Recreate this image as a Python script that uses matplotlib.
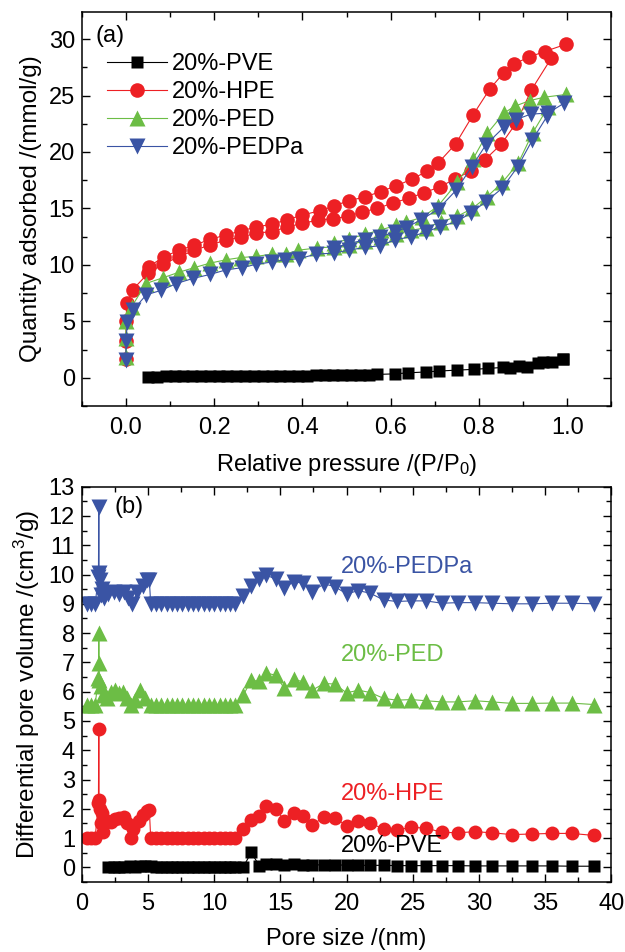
import matplotlib
matplotlib.use("Agg")
import matplotlib.pyplot as plt
from matplotlib.ticker import MultipleLocator

plt.rcParams['font.family'] = ['Liberation Sans', 'DejaVu Sans']
plt.rcParams['mathtext.fontset'] = 'custom'
plt.rcParams['mathtext.rm'] = 'Liberation Sans'
plt.rcParams['mathtext.it'] = 'Liberation Sans:italic'

# ---------------- (a) isotherms ----------------
pve_ads_p = [0.05, 0.07, 0.09, 0.11, 0.13, 0.15, 0.17, 0.19, 0.21, 0.23, 0.25, 0.27, 0.29, 0.31,
             0.33, 0.35, 0.37, 0.39, 0.41, 0.43, 0.45, 0.47, 0.49, 0.51, 0.53, 0.55, 0.57, 0.61,
             0.64, 0.68, 0.71, 0.75, 0.79, 0.82, 0.855, 0.89, 0.945, 0.99]
pve_ads_v = [0.10, 0.11, 0.12, 0.12, 0.13, 0.13, 0.14, 0.14, 0.15, 0.15, 0.16, 0.16, 0.17, 0.17,
             0.18, 0.18, 0.19, 0.19, 0.20, 0.21, 0.21, 0.22, 0.23, 0.24, 0.25, 0.26, 0.30, 0.35,
             0.44, 0.52, 0.60, 0.68, 0.75, 0.83, 0.92, 1.05, 1.42, 1.66]
pve_des_p = [0.99, 0.965, 0.935, 0.91, 0.87]
pve_des_v = [1.66, 1.40, 1.30, 1.00, 0.85]

hpe_ads_p = [0.0, 0.0, 0.0, 0.002, 0.015, 0.05, 0.085, 0.12, 0.155, 0.19, 0.226, 0.26, 0.294,
             0.33, 0.366, 0.40, 0.435, 0.47, 0.503, 0.536, 0.57, 0.606, 0.641, 0.676, 0.711,
             0.745, 0.781, 0.813, 0.851, 0.885, 0.919, 0.964]
hpe_ads_v = [1.7, 3.3, 5.0, 6.6, 7.8, 9.25, 10.1, 10.7, 11.3, 11.75, 12.2, 12.45, 12.8, 12.95,
             13.35, 13.7, 13.95, 14.1, 14.3, 14.7, 15.0, 15.5, 15.9, 16.4, 16.9, 17.6, 18.3,
             19.3, 20.7, 22.6, 25.5, 28.3]
hpe_des_p = [0.998, 0.949, 0.913, 0.880, 0.856, 0.825, 0.787, 0.747, 0.707, 0.683, 0.648, 0.613,
             0.577, 0.541, 0.505, 0.471, 0.44, 0.398, 0.366, 0.33, 0.294, 0.26, 0.226, 0.19,
             0.155, 0.12, 0.0855, 0.0514]
hpe_des_v = [29.55, 28.9, 28.4, 27.8, 27.0, 25.6, 23.3, 20.7, 19.0, 18.3, 17.6, 17.0, 16.5, 16.0,
             15.7, 15.2, 14.8, 14.4, 14.0, 13.6, 13.35, 13.0, 12.65, 12.25, 11.75, 11.3, 10.7, 9.85]

ped_ads_p = [0.0, 0.0, 0.0, 0.013, 0.045, 0.083, 0.12, 0.154, 0.19, 0.226, 0.26, 0.295, 0.33,
             0.363, 0.39, 0.433, 0.471, 0.505, 0.541, 0.577, 0.611, 0.645, 0.680, 0.714, 0.751,
             0.785, 0.819, 0.853, 0.889, 0.922, 0.957]
ped_ads_v = [1.85, 3.5, 5.0, 6.3, 8.35, 8.85, 9.35, 9.75, 10.15, 10.45, 10.65, 10.75, 10.95,
             10.95, 11.3, 11.5, 11.6, 11.8, 12.1, 12.45, 12.75, 13.05, 13.3, 13.8, 14.3, 15.0,
             16.05, 17.3, 19.0, 21.7, 24.0]
ped_des_p = [0.998, 0.948, 0.915, 0.881, 0.857, 0.819, 0.787, 0.751, 0.707, 0.671, 0.635, 0.613,
             0.577, 0.541, 0.505, 0.471]
ped_des_v = [25.1, 24.85, 24.55, 24.05, 23.45, 21.65, 19.4, 17.3, 15.2, 14.2, 13.8, 13.5, 13.1,
             12.7, 12.3, 11.9]

pedpa_ads_p = [0.0, 0.0, 0.003, 0.016, 0.046, 0.08, 0.114, 0.152, 0.19, 0.226, 0.262, 0.295,
               0.33, 0.36, 0.393, 0.43, 0.471, 0.505, 0.541, 0.576, 0.609, 0.645, 0.680, 0.712,
               0.748, 0.782, 0.816, 0.853, 0.888, 0.921, 0.955]
pedpa_ads_v = [1.6, 3.3, 4.9, 6.0, 7.35, 7.75, 8.35, 8.8, 9.15, 9.55, 9.75, 10.05, 10.25, 10.45,
               10.55, 10.95, 11.05, 11.3, 11.55, 11.7, 12.2, 12.5, 12.9, 13.4, 13.8, 14.6, 15.6,
               16.8, 18.7, 21.05, 23.2]
pedpa_des_p = [0.992, 0.957, 0.917, 0.883, 0.858, 0.816, 0.784, 0.748, 0.707, 0.669, 0.635,
               0.609, 0.576, 0.541, 0.505, 0.471]
pedpa_des_v = [24.3, 23.45, 23.35, 22.85, 22.25, 20.65, 18.7, 16.6, 14.9, 14.0, 13.3, 12.9,
               12.5, 12.2, 11.9, 11.5]

labels = ['20%-PVE', '20%-HPE', '20%-PED', '20%-PEDPa']

# ---------------- (b) pore size distributions ----------------
pore_flat = [5.6, 6.0, 6.4, 6.8, 7.2, 7.6, 8.0, 8.4, 8.8, 9.2, 9.6, 10.0, 10.4, 10.8, 11.2, 11.6]
pore_hi = [12.2, 12.8, 13.4, 13.9, 14.65, 15.3, 16.0, 16.7, 17.4, 18.3, 19.1, 20.0, 20.9, 21.8,
           22.8, 23.8, 24.9, 26.0, 27.2, 28.4, 29.7, 31.0, 32.5, 34.0, 35.5, 37.0, 38.7]

pve_lo_x = [2.0, 2.4, 2.8, 3.2, 3.6, 4.0, 4.4, 4.8, 5.2]
pve_lo_v = [0.02, 0.03, 0.02, 0.03, 0.04, 0.03, 0.05, 0.04, 0.05]
pve_flat_v = [0.02, 0.02, 0.02, 0.02, 0.02, 0.02, 0.02, 0.02, 0.02, 0.02, 0.02, 0.02, 0.02,
              0.02, 0.02, 0.02]
pve_hi_v = [0.02, 0.51, 0.06, 0.10, 0.10, 0.09, 0.10, 0.09, 0.08, 0.09, 0.08, 0.08, 0.07, 0.07,
            0.07, 0.06, 0.06, 0.06, 0.06, 0.06, 0.05, 0.05, 0.05, 0.05, 0.05, 0.04, 0.04]

hpe_lo_x = [0.4, 0.7, 1.0, 1.25, 1.28, 1.3, 1.4, 1.5, 1.45, 1.6, 1.9, 2.2, 2.5, 2.8, 3.2, 3.4,
            3.7, 3.9, 4.3, 4.6, 4.9, 5.1, 5.2]
hpe_lo_v = [1.0, 1.0, 1.0, 2.2, 4.74, 2.3, 2.0, 1.85, 1.5, 1.2, 1.6, 1.55, 1.65, 1.7, 1.72, 1.5,
            1.0, 1.31, 1.6, 1.8, 1.92, 1.95, 1.0]
hpe_flat_v = [1.0, 1.0, 1.0, 1.0, 1.0, 1.0, 1.0, 1.0, 1.0, 1.0, 1.0, 1.0, 1.0, 1.0, 1.0, 1.0]
hpe_hi_v = [1.31, 1.62, 1.77, 2.09, 2.0, 1.6, 1.85, 1.74, 1.46, 1.71, 1.69, 1.43, 1.58, 1.51,
            1.31, 1.28, 1.37, 1.34, 1.2, 1.18, 1.22, 1.18, 1.12, 1.14, 1.16, 1.16, 1.09]

ped_lo_x = [0.4, 0.7, 1.0, 1.25, 1.28, 1.3, 1.32, 1.45, 1.6, 1.9, 2.2, 2.5, 2.8, 3.1, 3.4, 3.7,
            4.0, 4.4, 4.8, 5.2]
ped_lo_v = [5.55, 5.55, 5.55, 6.45, 8.0, 6.97, 6.4, 6.2, 5.9, 5.8, 6.0, 6.05, 5.95, 6.0, 5.8,
            5.55, 5.7, 6.05, 5.8, 5.55]
ped_flat_v = [5.55, 5.55, 5.55, 5.55, 5.55, 5.55, 5.55, 5.55, 5.55, 5.55, 5.55, 5.55, 5.55,
              5.55, 5.55, 5.55]
ped_hi_v = [5.88, 6.4, 6.35, 6.64, 6.56, 6.11, 6.42, 6.34, 6.05, 6.28, 6.26, 5.96, 6.05, 5.97,
            5.77, 5.71, 5.73, 5.69, 5.65, 5.65, 5.69, 5.65, 5.6, 5.6, 5.61, 5.61, 5.56]

pedpa_lo_x = [0.4, 0.7, 1.0, 1.25, 1.28, 1.3, 1.35, 1.5, 1.45, 1.7, 2.0, 2.4, 2.8, 3.2, 3.5, 3.8,
              4.2, 4.6, 4.9, 5.1, 5.2]
pedpa_lo_v = [9.0, 9.0, 9.0, 9.9, 12.3, 10.05, 9.8, 9.5, 9.3, 9.2, 9.35, 9.4, 9.35, 9.4, 9.2,
              9.0, 9.4, 9.6, 9.8, 9.8, 9.0]
pedpa_flat_v = [9.0, 9.0, 9.0, 9.0, 9.0, 9.0, 9.0, 9.0, 9.0, 9.0, 9.0, 9.0, 9.0, 9.0, 9.0, 9.0]
pedpa_hi_v = [9.25, 9.6, 9.85, 9.99, 9.84, 9.53, 9.76, 9.7, 9.42, 9.68, 9.59, 9.34, 9.45, 9.36,
              9.13, 9.08, 9.1, 9.1, 9.02, 9.04, 9.04, 9.02, 9.0, 9.0, 9.02, 9.02, 9.0]

C_BLACK = '#000000'
C_RED = '#ED2024'
C_GREEN = '#6CBD45'
C_BLUE = '#3A54A4'

FS = 17

fig = plt.figure(figsize=(6.25, 9.52), dpi=100)
ax1 = fig.add_axes([0.131, 0.5735, 0.847, 0.4139])
ax2 = fig.add_axes([0.131, 0.0735, 0.847, 0.4153])


def style(ax):
    for s in ax.spines.values():
        s.set_linewidth(1.1)
    ax.tick_params(which='both', direction='in', top=True, right=True, labelsize=FS, width=1.0)
    ax.tick_params(which='major', length=6)
    ax.tick_params(which='minor', length=3.5)
    ax.tick_params(axis='x', which='major', pad=8)
    ax.tick_params(axis='y', which='major', pad=5)


# panel (a)
series = [
    (pve_ads_p, pve_ads_v, pve_des_p, pve_des_v, C_BLACK, 's', 9),
    (hpe_ads_p, hpe_ads_v, hpe_des_p, hpe_des_v, C_RED, 'o', 10.5),
    (ped_ads_p, ped_ads_v, ped_des_p, ped_des_v, C_GREEN, '^', 11),
    (pedpa_ads_p, pedpa_ads_v, pedpa_des_p, pedpa_des_v, C_BLUE, 'v', 11),
]
for (ap, av, dp, dv, c, m, ms), lab in zip(series, labels):
    ax1.plot(ap, av, color=c, marker=m, ms=ms, lw=0.8, mec='none', label=lab)
    ax1.plot(dp, dv, color=c, marker=m, ms=ms, lw=0.8, mec='none')

ax1.set_xlim(-0.1, 1.1)
ax1.set_ylim(-2.5, 32.4)
ax1.xaxis.set_major_locator(MultipleLocator(0.2))
ax1.xaxis.set_minor_locator(MultipleLocator(0.1))
ax1.yaxis.set_major_locator(MultipleLocator(5))
ax1.yaxis.set_minor_locator(MultipleLocator(2.5))
ax1.set_xticks([0.0, 0.2, 0.4, 0.6, 0.8, 1.0])
ax1.set_xticklabels(['0.0', '0.2', '0.4', '0.6', '0.8', '1.0'])
style(ax1)
ax1.set_xlabel('Relative pressure /(P/P$_0$)', fontsize=FS, labelpad=9)
ax1.set_ylabel('Quantity adsorbed /(mmol/g)', fontsize=FS + 0.5, labelpad=5)
ax1.text(0.025, 0.939, '(a)', transform=ax1.transAxes, fontsize=FS, va='center', ha='left')
ax1.legend(loc='upper left', bbox_to_anchor=(0.025, 0.925), frameon=False, fontsize=FS,
           handlelength=2.55, handletextpad=0.2, labelspacing=0.25, borderaxespad=0.3,
           borderpad=0.2)

# panel (b)
bseries = [
    (pve_lo_x, pve_lo_v, pve_flat_v, pve_hi_v, C_BLACK, 's', 8.5),
    (hpe_lo_x, hpe_lo_v, hpe_flat_v, hpe_hi_v, C_RED, 'o', 10),
    (ped_lo_x, ped_lo_v, ped_flat_v, ped_hi_v, C_GREEN, '^', 11),
    (pedpa_lo_x, pedpa_lo_v, pedpa_flat_v, pedpa_hi_v, C_BLUE, 'v', 11),
]
for lx, lv, fv, hv, c, m, ms in bseries:
    xs = list(lx) + list(pore_flat) + list(pore_hi)
    vs = list(lv) + list(fv) + list(hv)
    ax2.plot(xs, vs, color=c, marker=m, ms=ms, lw=0.8, mec='none')

ax2.set_xlim(0, 40)
ax2.set_ylim(-0.5, 13)
ax2.xaxis.set_major_locator(MultipleLocator(5))
ax2.xaxis.set_minor_locator(MultipleLocator(2.5))
ax2.yaxis.set_major_locator(MultipleLocator(1))
ax2.yaxis.set_minor_locator(MultipleLocator(0.5))
style(ax2)
ax2.set_xlabel('Pore size /(nm)', fontsize=FS, labelpad=9)
ax2.set_ylabel('Differential pore volume /(cm$^3$/g)', fontsize=FS + 0.5, labelpad=5)
ax2.text(0.062, 0.949, '(b)', transform=ax2.transAxes, fontsize=FS, va='center', ha='left')

ax2.text(19.6, 10.27, '20%-PEDPa', color=C_BLUE, fontsize=FS, va='center', ha='left')
ax2.text(19.6, 7.25, '20%-PED', color=C_GREEN, fontsize=FS, va='center', ha='left')
ax2.text(19.6, 2.51, '20%-HPE', color=C_RED, fontsize=FS, va='center', ha='left')
ax2.text(19.6, 0.74, '20%-PVE', color=C_BLACK, fontsize=FS, va='center', ha='left')

fig.savefig('out.png', dpi=100)
